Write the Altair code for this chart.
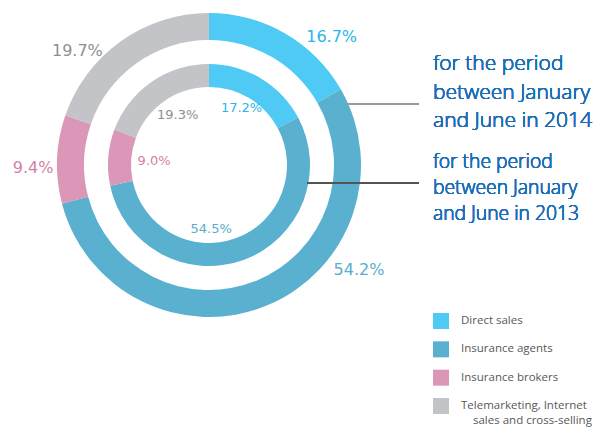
import altair as alt
import pandas as pd

# ---- data ----
categories = ["Direct sales", "Insurance agents", "Insurance brokers",
              "Telemarketing, Internet\nsales and cross-selling"]
values_2014 = [16.7, 54.2, 9.4, 19.7]
values_2013 = [17.2, 54.5, 9.0, 19.3]
years = ["2014", "2013"]
period_titles = {
    "2014": ["for the period", "between January", "and June in 2014"],
    "2013": ["for the period", "between January", "and June in 2013"],
}

# ---- style ----
fill_colors = ["#4ecaf4", "#5ab0cf", "#da97b8", "#c3c4c8"]
text_colors = ["#2bb5e9", "#58aecb", "#d47fa9", "#8f8f8f"]
CX, CY = 201, 157
ring = {"2014": (152, 125), "2013": (101, 78)}
# label placement tweaks (degrees added to slice mid-angle, radius px)
label_shift = {"2014": [13.8, -32.7, -3.2, -13.7], "2013": [-1.4, 18.0, -0.3, 2.7]}
label_rad = {"2014": [177, 183, 176, 174], "2013": [66, 64, 55, 59]}
label_size = {"2014": 16, "2013": 13}
TITLE_FONT = "Open Sans"

rows = []
for y, vals in zip(years, [values_2014, values_2013]):
    for i, (c, v) in enumerate(zip(categories, vals)):
        rows.append({"year": y, "idx": i, "cat": c, "value": v})
df = pd.DataFrame(rows)

color_scale = alt.Scale(domain=categories, range=fill_colors)
base = alt.Chart(df)

layers = []
for y in years:
    r1, r2 = ring[y]
    arc = base.transform_filter(alt.datum.year == y).mark_arc(
        radius=r1, radius2=r2
    ).encode(
        theta=alt.Theta("value:Q", stack=True),
        color=alt.Color("cat:N", scale=color_scale, legend=None),
        order=alt.Order("idx:Q"),
        x=alt.value(CX), y=alt.value(CY),
    )
    layers.append(arc)

for y in years:
    shifts = "[" + ",".join(str(s) for s in label_shift[y]) + "]"
    rads = "[" + ",".join(str(s) for s in label_rad[y]) + "]"
    cols = "[" + ",".join("'" + c + "'" for c in text_colors) + "]"
    txt = base.transform_filter(alt.datum.year == y).transform_window(
        cum="sum(value)", sort=[alt.SortField("idx")]
    ).transform_calculate(
        ang=f"(datum.cum - datum.value/2)/100*2*PI + {shifts}[datum.idx]*PI/180",
        rad=f"{rads}[datum.idx]",
        tc=f"{cols}[datum.idx]",
        lbl="format(datum.value, '.1f') + '%'",
    ).mark_text(
        font="DejaVu Sans", fontSize=label_size[y], align="center", baseline="middle"
    ).encode(
        theta=alt.Theta("ang:Q", scale=None),
        radius=alt.Radius("rad:Q", scale=None),
        text="lbl:N",
        color=alt.Color("tc:N", scale=None),
        x=alt.value(CX), y=alt.value(CY),
    )
    layers.append(txt)

# leader lines
layers.append(alt.Chart(df).mark_rule(color="#9a9a9a", strokeWidth=1.5).encode(
    x=alt.value(339), x2=alt.value(411), y=alt.value(96)))
layers.append(alt.Chart(df).mark_rule(color="#555555", strokeWidth=1.5).encode(
    x=alt.value(299), x2=alt.value(411), y=alt.value(175)))

# period titles
layers.append(alt.Chart(df).mark_text(
    text=period_titles["2014"], font=TITLE_FONT, fontSize=21, fontWeight=300,
    lineHeight=28.5, align="left", baseline="alphabetic", color="#1b6fb7"
).encode(x=alt.value(425), y=alt.value(62)))
layers.append(alt.Chart(df).mark_text(
    text=period_titles["2013"], font=TITLE_FONT, fontSize=19.3, fontWeight=300,
    lineHeight=25.8, align="left", baseline="alphabetic", color="#1b6fb7"
).encode(x=alt.value(425), y=alt.value(160)))

# custom legend
leg_df = pd.DataFrame({"cat": categories, "idx": list(range(len(categories)))})
leg_y = alt.Y("cat:N", scale=alt.Scale(type="point", domain=categories,
                                        range=[313, 398], padding=0), axis=None)
leg = alt.Chart(leg_df)
layers.append(leg.mark_square(size=256, opacity=1).encode(
    y=leg_y, x=alt.value(433),
    color=alt.Color("cat:N", scale=color_scale, legend=None)))
layers.append(leg.transform_calculate(
    l1="split(datum.cat, '\\n')[0]"
).mark_text(align="left", baseline="middle", font=TITLE_FONT, fontSize=11.5,
            color="#585858").encode(y=leg_y, x=alt.value(453), text="l1:N"))
layers.append(leg.transform_calculate(
    l2="split(datum.cat, '\\n')[1]"
).transform_filter("datum.l2").mark_text(
    align="left", baseline="middle", font=TITLE_FONT, fontSize=11.5,
    color="#585858", dy=14.5).encode(y=leg_y, x=alt.value(465), text="l2:N"))

chart = alt.layer(*layers).properties(
    width=592, height=423, padding=0,
    autosize=alt.AutoSizeParams(type="none"),
).configure_view(stroke=None)

chart.save("out.html", embed_options={"renderer": "svg", "actions": False})
